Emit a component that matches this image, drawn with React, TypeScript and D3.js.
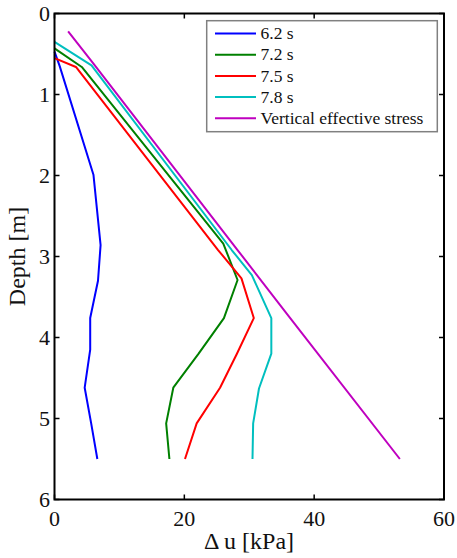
import React from "react";
import * as d3 from "d3";

// Excess pore pressure profiles, [Δu kPa, depth m]
const series62: [number, number][] = [
  [0, 0.47], [0.8, 0.65], [6.0, 1.99], [7.1, 2.86], [6.7, 3.3],
  [5.5, 3.76], [5.5, 4.15], [4.65, 4.62], [5.65, 5.06], [6.6, 5.5],
];
const series72: [number, number][] = [
  [0, 0.43], [4.2, 0.66], [26.0, 2.84], [28.2, 3.29], [26.1, 3.76],
  [22.2, 4.2], [18.3, 4.62], [17.2, 5.06], [17.7, 5.5],
];
const series75: [number, number][] = [
  [0, 0.55], [3.3, 0.66], [25.2, 2.92], [28.8, 3.27], [30.7, 3.76],
  [28.1, 4.2], [25.5, 4.62], [21.9, 5.06], [20.1, 5.5],
];
const series78: [number, number][] = [
  [0, 0.35], [5.7, 0.64], [27.3, 2.92], [30.4, 3.23], [33.4, 3.76],
  [33.4, 4.2], [31.5, 4.63], [30.6, 5.06], [30.5, 5.5],
];
const effectiveStress: [number, number][] = [
  [2.1, 0.22], [6.0, 0.62], [28.2, 2.92], [36.1, 3.74], [53.2, 5.5],
];

const legendLabels = ["6.2 s", "7.2 s", "7.5 s", "7.8 s", "Vertical effective stress"];
const colors = ["#0000ff", "#008000", "#ff0000", "#00bfbf", "#bf00bf"];
const xTicks = [0, 20, 40, 60];
const yTicks = [0, 1, 2, 3, 4, 5, 6];

const W = 457;
const H = 558;
const left = 54.5, right = 444, top = 13.5, bottom = 499.5;
const FONT = "Liberation Serif";

export default function App() {
  const x = d3.scaleLinear().domain([0, 60]).range([left, right]);
  const y = d3.scaleLinear().domain([0, 6]).range([top, bottom]);
  const line = d3
    .line<[number, number]>()
    .x((d) => x(d[0]))
    .y((d) => y(d[1]));
  const all = [series62, series72, series75, series78, effectiveStress];
  const tl = 5;

  const lgX = 206.7, lgY = 20.7, lgW = 230.6, lgH = 111;

  return (
    <svg
      width={W}
      height={H}
      style={{ position: "absolute", left: 0, top: 0, background: "#fff" }}
    >
      <rect x={0} y={0} width={W} height={H} fill="#fff" />
      {all.map((s, i) => (
        <path key={i} d={line(s) ?? ""} fill="none" stroke={colors[i]} strokeWidth={2} strokeLinejoin="round" />
      ))}

      {/* ticks on all four sides, pointing inward */}
      {xTicks.map((t) => (
        <g key={"x" + t}>
          <line x1={x(t)} x2={x(t)} y1={bottom} y2={bottom - tl} stroke="#000" strokeWidth={1.5} />
          <line x1={x(t)} x2={x(t)} y1={top} y2={top + tl} stroke="#000" strokeWidth={1.5} />
          <text x={x(t)} y={526} fontSize={22} style={{ fontFamily: FONT }} textAnchor="middle" fill="#111">
            {t}
          </text>
        </g>
      ))}
      {yTicks.map((t) => (
        <g key={"y" + t}>
          <line x1={left} x2={left + tl} y1={y(t)} y2={y(t)} stroke="#000" strokeWidth={1.5} />
          <line x1={right} x2={right - tl} y1={y(t)} y2={y(t)} stroke="#000" strokeWidth={1.5} />
          <text x={50} y={y(t)} dy="0.33em" fontSize={22} style={{ fontFamily: FONT }} textAnchor="end" fill="#111">
            {t}
          </text>
        </g>
      ))}
      <rect x={left} y={top} width={right - left} height={bottom - top} fill="none" stroke="#000" strokeWidth={2} />

      {/* legend */}
      <rect x={lgX} y={lgY} width={lgW} height={lgH} fill="#fff" stroke="#808080" strokeWidth={1.5} />
      {legendLabels.map((lab, i) => {
        const yy = 33.5 + i * 21.2;
        return (
          <g key={lab}>
            <line x1={215} x2={256} y1={yy} y2={yy} stroke={colors[i]} strokeWidth={2} />
            <text x={260.5} y={yy} dy="0.33em" fontSize={17.5} style={{ fontFamily: FONT }} fill="#111">
              {lab}
            </text>
          </g>
        );
      })}

      <text x={249} y={549} fontSize={24} style={{ fontFamily: FONT }} textAnchor="middle" fill="#111">
        Δ u [kPa]
      </text>
      <text
        transform={`translate(25, ${(top + bottom) / 2}) rotate(-90)`}
        fontSize={24}
        style={{ fontFamily: FONT }}
        textAnchor="middle"
        fill="#111"
      >
        Depth [m]
      </text>
    </svg>
  );
}
